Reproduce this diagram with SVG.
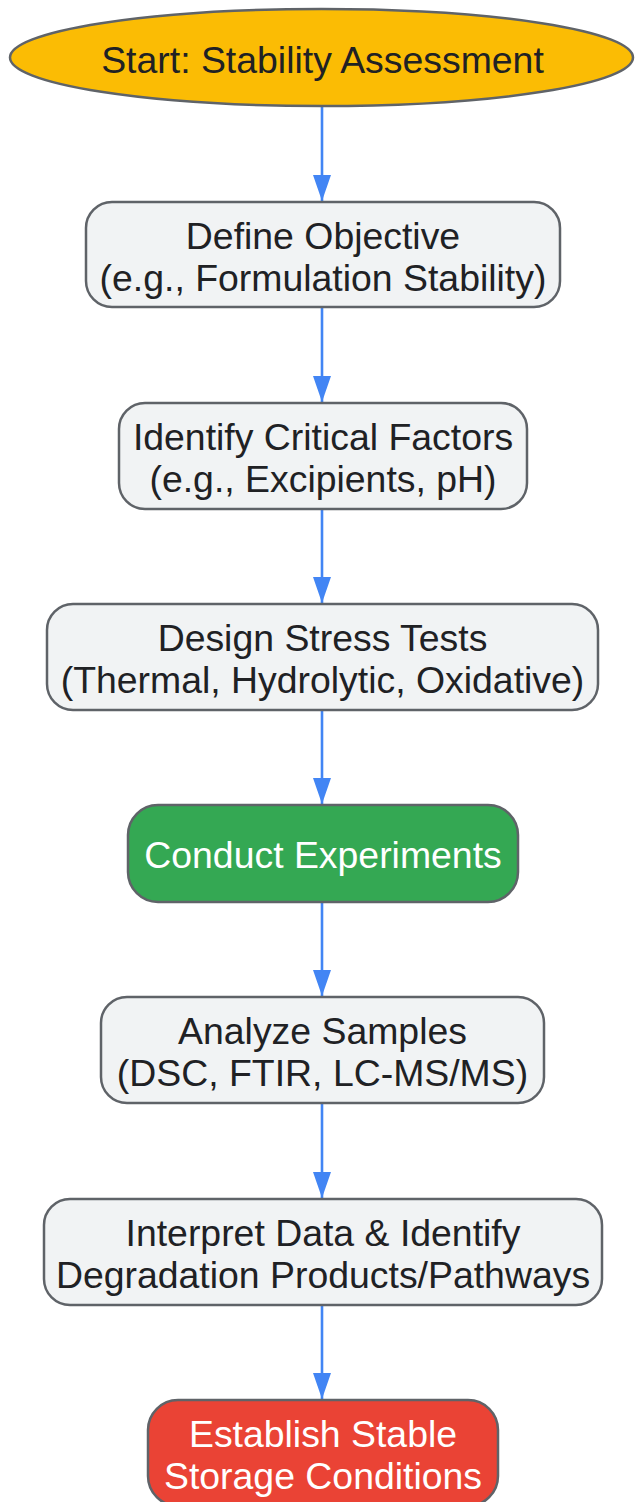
<svg xmlns="http://www.w3.org/2000/svg" width="635" height="1502" viewBox="0 0 635 1502">
  <style>
    .n { stroke: #5f6368; stroke-width: 2.5; }
    .g { fill: #f1f3f4; }
    .t { font-family: "Liberation Sans", Arial, sans-serif; font-size: 37.4px; text-anchor: middle; fill: #202124; }
    .w { fill: #ffffff; }
    .e { stroke: #4285f4; stroke-width: 2.6; fill: none; }
  </style>
  <defs>
    <marker id="ah" viewBox="0 0 26 18" refX="26" refY="9" markerWidth="26" markerHeight="18" markerUnits="userSpaceOnUse" orient="auto">
      <path d="M0,0 L26,9 L0,18 z" fill="#4285f4"/>
    </marker>
  </defs>
  <rect width="635" height="1502" fill="#ffffff"/>
  <g id="edges">
    <line class="e" x1="322" y1="106" x2="322" y2="201" marker-end="url(#ah)"/>
    <line class="e" x1="322" y1="307" x2="322" y2="402" marker-end="url(#ah)"/>
    <line class="e" x1="322" y1="509" x2="322" y2="603" marker-end="url(#ah)"/>
    <line class="e" x1="322" y1="710" x2="322" y2="804" marker-end="url(#ah)"/>
    <line class="e" x1="322" y1="902" x2="322" y2="996" marker-end="url(#ah)"/>
    <line class="e" x1="322" y1="1103" x2="322" y2="1198" marker-end="url(#ah)"/>
    <line class="e" x1="322" y1="1305" x2="322" y2="1399" marker-end="url(#ah)"/>
  </g>
  <g id="start">
    <ellipse class="n" cx="321.5" cy="57.5" rx="311.5" ry="48.5" fill="#fbbc04"/>
    <text class="t" x="322.5" y="72.5">Start: Stability Assessment</text>
  </g>
  <g id="define">
    <rect class="n g" x="86" y="202" width="474" height="105" rx="26"/>
    <text class="t" x="323" y="248.5">Define Objective</text>
    <text class="t" x="323" y="290.5">(e.g., Formulation Stability)</text>
  </g>
  <g id="identify">
    <rect class="n g" x="119" y="403" width="408" height="106" rx="26"/>
    <text class="t" x="323" y="450">Identify Critical Factors</text>
    <text class="t" x="323" y="492">(e.g., Excipients, pH)</text>
  </g>
  <g id="design">
    <rect class="n g" x="47" y="604" width="551" height="106" rx="26"/>
    <text class="t" x="322.5" y="651">Design Stress Tests</text>
    <text class="t" x="322.5" y="693">(Thermal, Hydrolytic, Oxidative)</text>
  </g>
  <g id="conduct">
    <rect class="n" x="128" y="805" width="390" height="97" rx="30" fill="#34a853"/>
    <text class="t w" x="323" y="868">Conduct Experiments</text>
  </g>
  <g id="analyze">
    <rect class="n g" x="101" y="997" width="443" height="106" rx="26"/>
    <text class="t" x="322.5" y="1044">Analyze Samples</text>
    <text class="t" x="322.5" y="1086">(DSC, FTIR, LC-MS/MS)</text>
  </g>
  <g id="interpret">
    <rect class="n g" x="44" y="1199" width="558" height="106" rx="26"/>
    <text class="t" x="323" y="1246">Interpret Data &amp; Identify</text>
    <text class="t" x="323" y="1288">Degradation Products/Pathways</text>
  </g>
  <g id="establish">
    <rect class="n" x="148" y="1400" width="350" height="106" rx="30" fill="#ea4335"/>
    <text class="t w" x="323" y="1447">Establish Stable</text>
    <text class="t w" x="323" y="1489">Storage Conditions</text>
  </g>
</svg>
